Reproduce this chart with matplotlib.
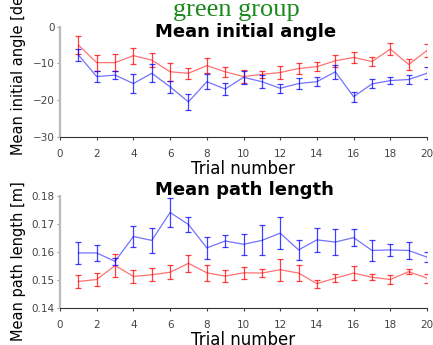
import numpy as np
import matplotlib.pyplot as plt

# trial numbers and group means / standard errors
trials = np.arange(1, 21)

angle_red = [-5.0, -9.8, -9.8, -7.9, -9.1, -12.3, -12.7, -10.6, -12.3, -13.6,
             -13.0, -12.5, -11.4, -10.9, -9.3, -8.4, -9.5, -6.1, -10.3, -6.5]
angle_red_err = [2.4, 2.2, 2.4, 2.2, 2.0, 2.5, 1.5, 2.0, 1.4, 1.8,
                 1.0, 1.8, 1.5, 1.3, 1.6, 1.5, 1.3, 1.7, 1.4, 1.9]
angle_blue = [-7.7, -13.6, -13.2, -15.5, -12.7, -16.4, -20.5, -15.0, -17.0, -13.8,
              -15.0, -16.8, -15.5, -15.0, -12.3, -19.1, -15.6, -14.7, -14.4, -12.7]
angle_blue_err = [1.6, 1.5, 1.0, 2.5, 2.5, 1.6, 2.2, 2.0, 1.7, 1.8,
                  1.8, 1.2, 1.4, 1.3, 1.9, 1.4, 1.2, 0.9, 1.1, 1.6]

path_red = [0.1494, 0.1501, 0.1551, 0.1512, 0.1518, 0.1527, 0.1559, 0.1525, 0.1513, 0.1525,
            0.1524, 0.1536, 0.1524, 0.1486, 0.1506, 0.1524, 0.1509, 0.1501, 0.1529, 0.1506]
path_red_err = [0.0022, 0.0023, 0.0040, 0.0023, 0.0024, 0.0026, 0.0030, 0.0029, 0.0022, 0.0022,
                0.0015, 0.0040, 0.0028, 0.0014, 0.0015, 0.0024, 0.0011, 0.0017, 0.0010, 0.0016]
path_blue = [0.1596, 0.1596, 0.1566, 0.1655, 0.1641, 0.1741, 0.1698, 0.1614, 0.1639, 0.1627,
             0.1641, 0.1667, 0.1607, 0.1643, 0.1635, 0.1651, 0.1605, 0.1607, 0.1605, 0.1581]
path_blue_err = [0.0040, 0.0028, 0.0012, 0.0036, 0.0046, 0.0053, 0.0027, 0.0039, 0.0020, 0.0037,
                 0.0054, 0.0056, 0.0035, 0.0042, 0.0048, 0.0030, 0.0036, 0.0021, 0.0029, 0.0018]

W, H = 433, 345
fig = plt.figure(figsize=(W / 100, H / 100), dpi=100)
ax1 = fig.add_axes([0.1386, 0.6038, 0.8476, 0.3188])
ax2 = fig.add_axes([0.1386, 0.1081, 0.8476, 0.3238])


def draw(ax, y, e, color):
    ax.plot(trials, y, color=color, lw=0.9, alpha=0.55)
    ax.errorbar(trials, y, yerr=e, fmt='none', ecolor=color, elinewidth=0.9,
                capsize=2.4, capthick=0.9, alpha=0.75)


def style(ax):
    ax.spines['top'].set_visible(False)
    ax.spines['right'].set_visible(False)
    ax.spines['left'].set_color('#bbbbbb')
    ax.spines['left'].set_linewidth(1.6)
    ax.spines['bottom'].set_color('#333333')
    ax.spines['bottom'].set_linewidth(0.8)
    ax.tick_params(axis='x', labelsize=7.5, colors='#444444', labelcolor='#444444',
                   direction='out', length=2, pad=7)
    ax.tick_params(axis='y', labelsize=7.5, colors='#999999', labelcolor='#444444',
                   direction='out', length=2, pad=2)
    ax.set_xlim(0, 20)
    ax.set_xticks(range(0, 21, 2))
    ax.set_xlabel('Trial number', fontsize=12, labelpad=0.5)


draw(ax1, angle_red, angle_red_err, 'red')
draw(ax1, angle_blue, angle_blue_err, 'blue')
style(ax1)
ax1.set_ylim(-30, 0)
ax1.set_yticks([-30, -20, -10, 0])

draw(ax2, path_red, path_red_err, 'red')
draw(ax2, path_blue, path_blue_err, 'blue')
style(ax2)
ax2.set_ylim(0.14, 0.18)
ax2.set_yticks([0.14, 0.15, 0.16, 0.17, 0.18])
ax2.set_yticklabels(['0.14', '0.15', '0.16', '0.17', '0.18'])

# y labels placed by hand, as in the cropped original
fig.text(19 / W, 1 - 68 / H, 'Mean initial angle [deg]', fontsize=10.5,
         rotation=90, ha='center', va='center')
fig.text(19 / W, 1 - 261 / H, 'Mean path length [m]', fontsize=10.5,
         rotation=90, ha='center', va='center')

fig.text(236 / W, 1 - 10 / H, 'green group', color='#1a8a1a', fontsize=19,
         family='Liberation Serif', ha='center', va='center')
fig.text(246 / W, 1 - 32 / H, 'Mean initial angle', fontsize=13,
         fontweight='bold', ha='center', va='center')
fig.text(244 / W, 1 - 190 / H, 'Mean path length', fontsize=13,
         fontweight='bold', ha='center', va='center')

fig.savefig('out.png', dpi=100)
